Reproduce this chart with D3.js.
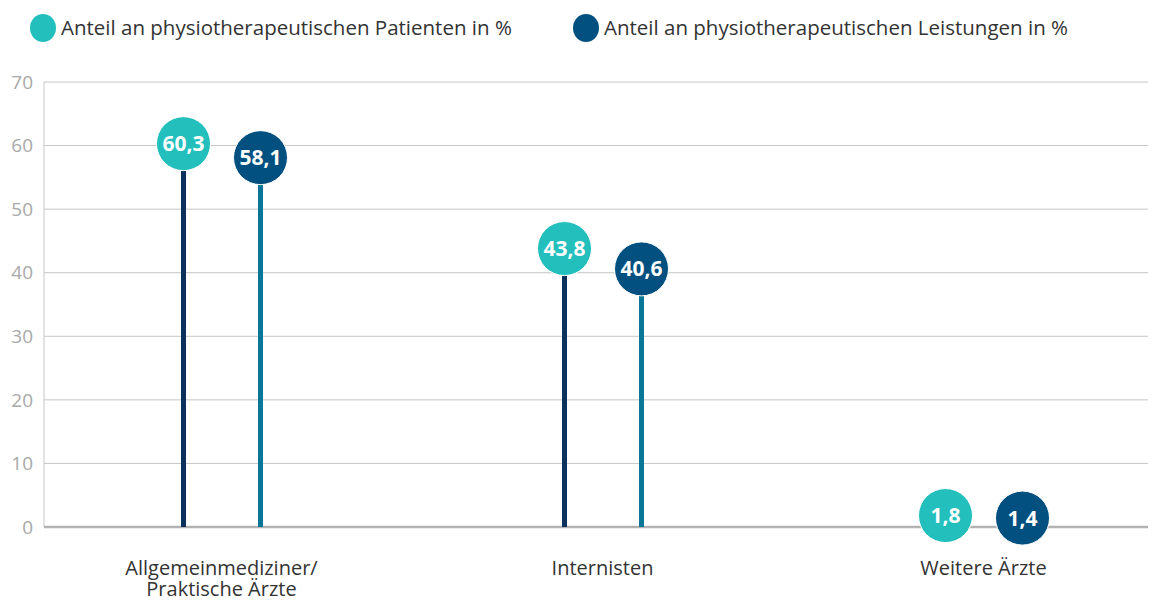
<!DOCTYPE html>
<html>
<head>
<meta charset="utf-8">
<script src="https://cdn.jsdelivr.net/npm/d3@7"></script>
<style>
  body { margin: 0; background: #fff; }
  text { font-family: "Open Sans", "Noto Sans", sans-serif; }
</style>
</head>
<body>
<div id="chart"></div>
<script>
// Chart data
var categories = ["Allgemeinmediziner/\nPraktische Ärzte", "Internisten", "Weitere Ärzte"];
var patienten = [60.3, 43.8, 1.8];
var leistungen = [58.1, 40.6, 1.4];
var seriesNames = ["Anteil an physiotherapeutischen Patienten in %", "Anteil an physiotherapeutischen Leistungen in %"];
var yTicks = [0, 10, 20, 30, 40, 50, 60, 70];

var width = 1153;
var height = 601;
var gridLeft = 44, gridRight = 1148;
var r = 27;

var circleColors = ["#22bfbd", "#02507f"];
var stemColors = ["#0c315c", "#0a7698"];

var svg = d3.select("#chart")
    .append("svg")
    .attr("width", width)
    .attr("height", height);

var y = d3.scaleLinear()
    .domain([0, 70])
    .range([527, 82]);

var x = d3.scaleBand()
    .domain(categories)
    .range([31, 1174]);

var offset = d3.scaleOrdinal()
    .domain([0, 1])
    .range([-38, 39]);

// Gridlines
svg.append("g")
    .selectAll("line")
    .data(yTicks.filter(function(d) { return d > 0; }))
    .enter()
    .append("line")
    .attr("x1", gridLeft)
    .attr("x2", gridRight)
    .attr("y1", function(d) { return y(d); })
    .attr("y2", function(d) { return y(d); })
    .attr("stroke", "#c6c6c6")
    .attr("stroke-width", 1);

// Y axis line
svg.append("line")
    .attr("x1", gridLeft).attr("x2", gridLeft)
    .attr("y1", y(70)).attr("y2", y(0))
    .attr("stroke", "#c6c6c6")
    .attr("stroke-width", 1);

// Tick labels
svg.append("g")
    .selectAll("text")
    .data(yTicks)
    .enter()
    .append("text")
    .attr("x", 33)
    .attr("y", function(d) { return y(d); })
    .attr("dy", "0.35em")
    .attr("text-anchor", "end")
    .attr("font-size", "19px")
    .attr("fill", "#a9a9a9")
    .text(function(d) { return d; });

// Baseline
svg.append("line")
    .attr("x1", gridLeft).attr("x2", gridRight)
    .attr("y1", y(0)).attr("y2", y(0))
    .attr("stroke", "#b3b3b3")
    .attr("stroke-width", 2.5);

var series = [patienten, leistungen];

series.forEach(function(values, s) {
    var pts = categories.map(function(c, i) { return { cat: c, value: values[i] }; });
    var g = svg.append("g");

    // stems
    g.selectAll("line")
      .data(pts.filter(function(d) { return y(0) - y(d.value) > r; }))
      .enter()
      .append("line")
      .attr("x1", function(d) { return x(d.cat) + x.bandwidth() / 2 + offset(s); })
      .attr("x2", function(d) { return x(d.cat) + x.bandwidth() / 2 + offset(s); })
      .attr("y1", y(0))
      .attr("y2", function(d) { return y(d.value) + r; })
      .attr("stroke", stemColors[s])
      .attr("stroke-width", 5);

    // bubbles
    g.selectAll("circle")
      .data(pts)
      .enter()
      .append("circle")
      .attr("cx", function(d) { return x(d.cat) + x.bandwidth() / 2 + offset(s); })
      .attr("cy", function(d) { return y(d.value); })
      .attr("r", r)
      .attr("fill", circleColors[s])
      .attr("stroke", "#fff")
      .attr("stroke-width", 1);

    g.selectAll("text")
      .data(pts)
      .enter()
      .append("text")
      .attr("x", function(d) { return x(d.cat) + x.bandwidth() / 2 + offset(s); })
      .attr("y", function(d) { return y(d.value); })
      .attr("dy", "0.36em")
      .attr("text-anchor", "middle")
      .attr("font-size", "21px")
      .attr("font-weight", "bold")
      .attr("fill", "#fff")
      .text(function(d) { return d3.format(".1f")(d.value).replace(".", ","); });
});

// Category labels, one text per line
var labelLines = [];
categories.forEach(function(c) {
    c.split("\n").forEach(function(l, i) {
        labelLines.push({ cat: c, line: l, row: i });
    });
});

svg.append("g")
    .selectAll("text")
    .data(labelLines)
    .enter()
    .append("text")
    .attr("x", function(d) { return x(d.cat) + x.bandwidth() / 2; })
    .attr("y", function(d) { return 575 + d.row * 21; })
    .attr("text-anchor", "middle")
    .attr("font-size", "20px")
    .attr("fill", "#333")
    .text(function(d) { return d.line; });

// Legend
var legendX = [43, 586];
var legend = svg.append("g")
    .selectAll("g")
    .data(seriesNames)
    .enter()
    .append("g")
    .attr("transform", function(d, i) { return "translate(" + legendX[i] + ",28)"; });

legend.append("ellipse")
    .attr("rx", 13)
    .attr("ry", 14)
    .attr("fill", function(d, i) { return circleColors[i]; });

legend.append("text")
    .attr("x", 18)
    .attr("dy", "0.35em")
    .attr("font-size", "20.5px")
    .attr("fill", "#333")
    .text(function(d) { return d; });
</script>
</body>
</html>
